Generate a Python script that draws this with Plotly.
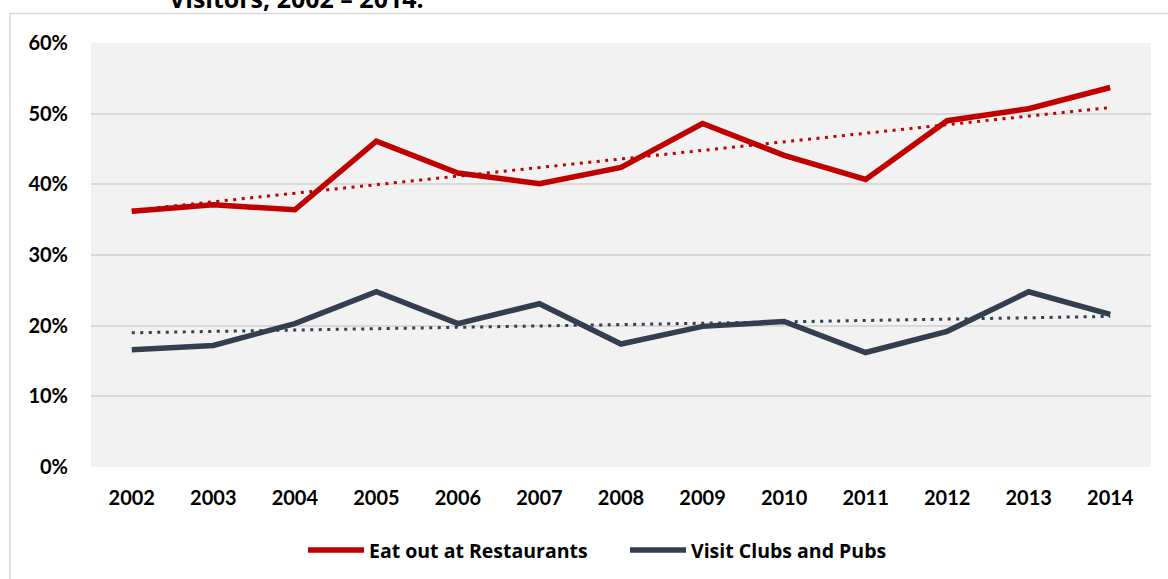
import numpy as np
import plotly.graph_objects as go

# Share of visitors doing each activity, by year
years = ["2002", "2003", "2004", "2005", "2006", "2007", "2008",
         "2009", "2010", "2011", "2012", "2013", "2014"]
restaurants = [0.362, 0.371, 0.364, 0.461, 0.416, 0.401, 0.424,
               0.486, 0.441, 0.407, 0.490, 0.507, 0.537]
clubs_pubs = [0.166, 0.172, 0.203, 0.248, 0.203, 0.231, 0.174,
              0.199, 0.206, 0.162, 0.192, 0.248, 0.216]
series_names = ["Eat out at Restaurants", "Visit Clubs and Pubs"]
title_text = "Visitors, 2002 – 2014."

RED = "#C00000"
SLATE = "#333F4F"
GRID = "#D9D9D9"
FONT = "Lato"
TEXT_FONT = "Open Sans"

W, H = 1168, 579
ML, MR, MT, MB = 91, 17, 43, 112
PW, PH = W - ML - MR, H - MT - MB


def px(x):
    return (x - ML) / PW


def py(y):
    return (H - MB - y) / PH


def linear_trend(values):
    xs = np.arange(len(values))
    slope, intercept = np.polyfit(xs, values, 1)
    return list(slope * xs + intercept)


fig = go.Figure()

for name, vals, color in [(series_names[0], restaurants, RED),
                          (series_names[1], clubs_pubs, SLATE)]:
    fig.add_trace(go.Scatter(
        x=years, y=vals, mode="lines", name=name,
        line=dict(color=color, width=5.5), showlegend=False,
    ))

for vals, color in [(restaurants, RED), (clubs_pubs, SLATE)]:
    fig.add_trace(go.Scatter(
        x=years, y=linear_trend(vals), mode="lines",
        line=dict(color=color, width=3, dash="3px,5.5px"),
        showlegend=False, hoverinfo="skip",
    ))

shapes = [
    # outer chart frame
    dict(type="rect", xref="paper", yref="paper",
         x0=px(10), x1=px(W + 20), y0=py(13.5), y1=py(H + 20),
         line=dict(color=GRID, width=1.5), fillcolor="rgba(0,0,0,0)",
         layer="below"),
]
annotations = [
    dict(text="<b>" + title_text + "</b>", xref="paper", yref="paper",
         x=px(296), y=py(17), xanchor="center", yanchor="bottom",
         showarrow=False, font=dict(family=TEXT_FONT, size=25, color="#000000")),
]

# legend drawn as line samples with labels
legend_items = [(series_names[0], RED, 308, 364, 367),
                (series_names[1], SLATE, 630, 686, 689)]
for name, color, x0, x1, tx in legend_items:
    shapes.append(dict(type="line", xref="paper", yref="paper",
                       x0=px(x0), x1=px(x1), y0=py(550), y1=py(550),
                       line=dict(color=color, width=5.5), layer="above"))
    annotations.append(dict(text="<b>" + name + "</b>", xref="paper", yref="paper",
                            x=px(tx), y=py(550), xanchor="left", yanchor="middle",
                            showarrow=False,
                            font=dict(family=TEXT_FONT, size=19.5, color="#000000")))

fig.update_layout(
    width=W, height=H,
    margin=dict(l=ML, r=MR, t=MT, b=MB, pad=0),
    paper_bgcolor="#FFFFFF",
    plot_bgcolor="#F2F2F2",
    font=dict(family=FONT, size=20, color="#000000"),
    shapes=shapes,
    annotations=annotations,
    xaxis=dict(
        type="category", range=[-0.5, 12.5], showgrid=False,
        showline=False, zeroline=False, ticks="",
        tickfont=dict(family=FONT, size=20, color="#000000", weight="bold"),
        ticklabelstandoff=17,
    ),
    yaxis=dict(
        range=[0, 0.6], dtick=0.1, tickformat=".0%",
        showgrid=True, gridcolor=GRID, gridwidth=2,
        zeroline=False, showline=False, ticks="",
        tickfont=dict(family=FONT, size=20, color="#000000", weight="bold"),
        ticklabelstandoff=22,
    ),
)

fig.write_html("out.html")
